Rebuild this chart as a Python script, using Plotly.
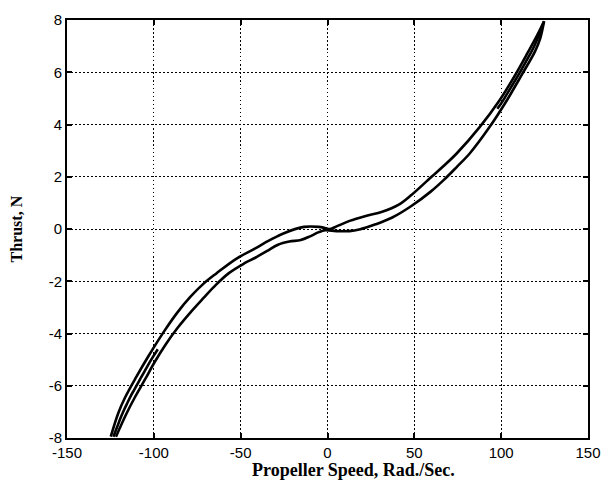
import numpy as np
import plotly.graph_objects as go

# Branch shifted left (higher thrust at a given speed)
speed_a = [-124.8, -120.5, -116.5, -110.0, -103.4, -94.0, -86.5, -79.0, -71.5, -64.0, -52.8,
           -41.6, -33.0, -24.7, -13.5, -5.0, -1.5, 1.5, 5.2, 12.7, 22.0, 31.5, 40.8, 48.3,
           59.6, 67.0, 74.5, 87.6, 98.9, 108.3, 115.7, 121.0, 124.7]
thrust_a = [-7.95, -7.05, -6.44, -5.65, -4.90, -3.91, -3.20, -2.60, -2.10, -1.70, -1.15,
            -0.74, -0.42, -0.15, 0.08, 0.08, 0.04, 0.00, 0.10, 0.31, 0.50, 0.66, 0.92, 1.30,
            1.98, 2.42, 2.90, 3.90, 4.91, 5.92, 6.80, 7.45, 7.95]

# Branch shifted right (lower thrust at a given speed)
speed_b = [-121.8, -116.0, -110.9, -105.0, -99.6, -93.0, -86.5, -79.0, -71.5, -64.0, -56.6,
           -48.0, -41.6, -35.0, -28.5, -22.0, -15.4, -10.0, -5.0, -1.3, 5.0, 12.7, 18.3,
           27.7, 37.0, 48.3, 59.6, 67.0, 74.5, 82.0, 93.3, 102.6, 112.0, 119.5, 122.5, 124.7]
thrust_b = [-7.95, -7.10, -6.44, -5.75, -5.10, -4.40, -3.80, -3.20, -2.65, -2.12, -1.68,
            -1.32, -1.10, -0.85, -0.60, -0.48, -0.42, -0.28, -0.12, -0.05, -0.08, -0.08, -0.02,
            0.18, 0.43, 0.88, 1.44, 1.88, 2.38, 2.90, 3.90, 4.85, 5.92, 6.80, 7.30, 7.95]

x_ticks = [-150, -100, -50, 0, 50, 100, 150]
y_ticks = [-8, -6, -4, -2, 0, 2, 4, 6, 8]

loop_x = speed_a + speed_b[::-1]
loop_y = thrust_a + thrust_b[::-1]

fig = go.Figure()

# Repeated cycles overlap near both ends: an intermediate pass between the two branches
sa, ta = np.array(speed_a), np.array(thrust_a)
sb, tb = np.array(speed_b), np.array(thrust_b)
for lo, hi in ((-7.95, -4.6), (4.6, 7.95)):
    levels = np.linspace(lo, hi, 14)
    ma = (ta <= -3) if lo < 0 else (ta >= 3)
    mb = (tb <= -3) if lo < 0 else (tb >= 3)
    xa = np.interp(levels, ta[ma], sa[ma])
    xb = np.interp(levels, tb[mb], sb[mb])
    fig.add_trace(go.Scatter(x=(xa + xb) / 2, y=levels, mode="lines",
                             line=dict(color="black", width=2.6, shape="spline"),
                             showlegend=False, hoverinfo="skip"))

fig.add_trace(go.Scatter(x=loop_x, y=loop_y, mode="lines",
                         line=dict(color="black", width=2.6, shape="spline", smoothing=1.0),
                         showlegend=False, hoverinfo="skip"))

axis_common = dict(
    showline=True, linecolor="black", linewidth=2, mirror="ticks",
    ticks="inside", ticklen=5, tickwidth=1.5, tickcolor="black",
    showgrid=True, gridcolor="black", gridwidth=1, griddash="1.5px,2.5px",
    zeroline=False,
    tickfont=dict(family="Liberation Sans, Arial, sans-serif", size=15, color="black"),
)

fig.update_xaxes(range=[-150, 150], tickvals=x_ticks, ticktext=[str(v) for v in x_ticks],
                 **axis_common)
fig.update_yaxes(range=[-8, 8], tickvals=y_ticks, ticktext=[str(v) for v in y_ticks],
                 **axis_common)

fig.update_layout(
    width=612, height=487,
    margin=dict(l=67, r=11, t=15, b=49),
    plot_bgcolor="white", paper_bgcolor="white",
    annotations=[
        dict(text="<b>Propeller Speed, Rad./Sec.</b>", xref="paper", yref="paper",
             x=0.55, y=-0.076, xanchor="center", yanchor="middle", showarrow=False,
             font=dict(family="Liberation Serif, Times New Roman, serif", size=18, color="black")),
        dict(text="<b>Thrust, N</b>", xref="paper", yref="paper",
             x=-0.097, y=0.5, xanchor="center", yanchor="middle", showarrow=False,
             textangle=-90,
             font=dict(family="Liberation Serif, Times New Roman, serif", size=16, color="black")),
    ],
)

fig.write_html("out.html")
